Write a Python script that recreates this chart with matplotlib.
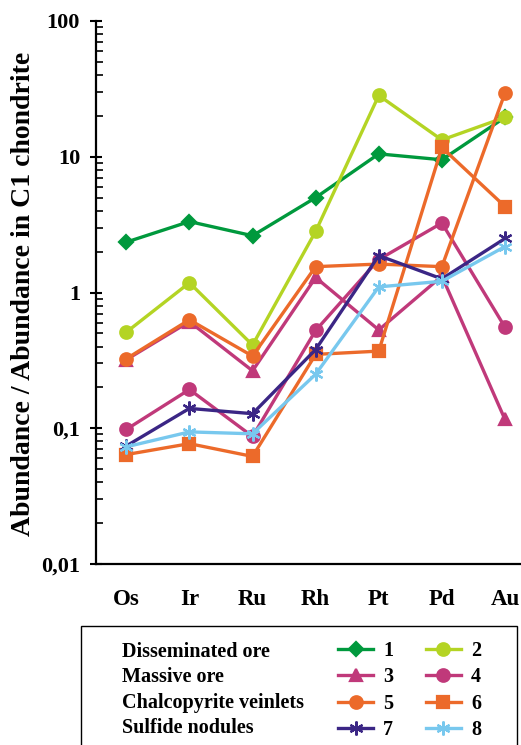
import matplotlib
matplotlib.use("Agg")
import matplotlib.pyplot as plt
from matplotlib.patches import Rectangle
from matplotlib.ticker import LogLocator, FixedLocator, FixedFormatter, NullFormatter

plt.rcParams['font.family'] = ['Liberation Serif', 'DejaVu Serif']
plt.rcParams['font.weight'] = 'bold'

elements = ['Os', 'Ir', 'Ru', 'Rh', 'Pt', 'Pd', 'Au']

# chondrite-normalised abundances
s1 = [2.35, 3.33, 2.62, 5.0, 10.5, 9.5, 19.5]
s2 = [0.51, 1.18, 0.41, 2.82, 28.3, 13.3, 19.5]
s3 = [0.32, 0.61, 0.265, 1.29, 0.53, 1.32, 0.116]
s4 = [0.098, 0.193, 0.087, 0.525, 1.75, 3.25, 0.555]
s5 = [0.325, 0.63, 0.34, 1.55, 1.62, 1.55, 29.5]
s6 = [0.064, 0.077, 0.062, 0.35, 0.37, 11.7, 4.3]
s7 = [0.074, 0.14, 0.128, 0.38, 1.87, 1.26, 2.5]
s8 = [0.073, 0.094, 0.091, 0.25, 1.1, 1.21, 2.18]

series = [s1, s2, s3, s4, s5, s6, s7, s8]
labels = ['1', '2', '3', '4', '5', '6', '7', '8']
groups = ['Disseminated ore', 'Massive ore', 'Chalcopyrite veinlets', 'Sulfide nodules']

colors = ['#00993d', '#b4d424', '#c0397a', '#c0397a',
          '#ec6a2a', '#ec6a2a', '#3b2685', '#78c8ee']
markers = ['D', 'o', '^', 'o', 'o', 's', (6, 2, 0), (6, 2, 0)]
msizes = [7, 9, 8, 9, 9, 8, 10, 10]

fig = plt.figure(figsize=(5.21, 7.45), dpi=100)
ax = fig.add_axes([96 / 521, 1 - 564 / 745, 1 - 96 / 521 + 0.002, (564 - 21) / 745])

x = list(range(len(elements)))
handles = []
for vals, lab, c, m, ms in zip(series, labels, colors, markers, msizes):
    h, = ax.plot(x, vals, color=c, marker=m, markersize=ms, linewidth=2.4,
                 markeredgecolor=c, markeredgewidth=1.6, label=lab)
    handles.append(h)

ax.set_yscale('log')
ax.set_ylim(0.01, 100)
ax.set_xlim(-0.48, 6.27)
ax.yaxis.set_major_locator(FixedLocator([0.01, 0.1, 1, 10, 100]))
ax.yaxis.set_major_formatter(FixedFormatter(['0,01', '0,1', '1', '10', '100']))
ax.yaxis.set_minor_locator(LogLocator(base=10, subs=range(2, 10)))
ax.yaxis.set_minor_formatter(NullFormatter())
ax.tick_params(axis='y', which='major', direction='inout', length=9, width=1.5,
               labelsize=16, pad=7)
ax.tick_params(axis='y', which='minor', direction='in', length=5, width=1.2)
ax.set_xticks(x)
ax.set_xticklabels(elements, fontsize=16.5, fontweight='bold')
ax.tick_params(axis='x', length=0, pad=18)
for side in ['top', 'right']:
    ax.spines[side].set_visible(False)
for side in ['left', 'bottom']:
    ax.spines[side].set_linewidth(1.6)
ax.set_ylabel('Abundance / Abundance in C1 chondrite', fontsize=20,
              fontweight='bold')
ax.yaxis.set_label_coords(-0.141, 0.497)

# legend frame (cut off at the bottom edge like the original)
fig.patches.append(Rectangle((81 / 521, -0.02), (517 - 81) / 521, (745 - 626) / 745 + 0.02,
                             transform=fig.transFigure, fill=False,
                             edgecolor='black', linewidth=1.0))
for i, g in enumerate(groups):
    fig.text(122 / 521, 1 - (652 + 25.3 * i) / 745, g, fontsize=14.5,
             fontweight='bold', va='center', ha='left')

order = [0, 2, 4, 6, 1, 3, 5, 7]
fig.legend([handles[i] for i in order], [labels[i] for i in order], ncol=2,
           frameon=False, fontsize=14.5, handlelength=1.75, labelspacing=0.32,
           columnspacing=1.6, handletextpad=0.5, borderpad=0, borderaxespad=0,
           loc='upper left', bbox_to_anchor=(338 / 521, 1 - 641 / 745))

fig.savefig('out.png', dpi=100)
